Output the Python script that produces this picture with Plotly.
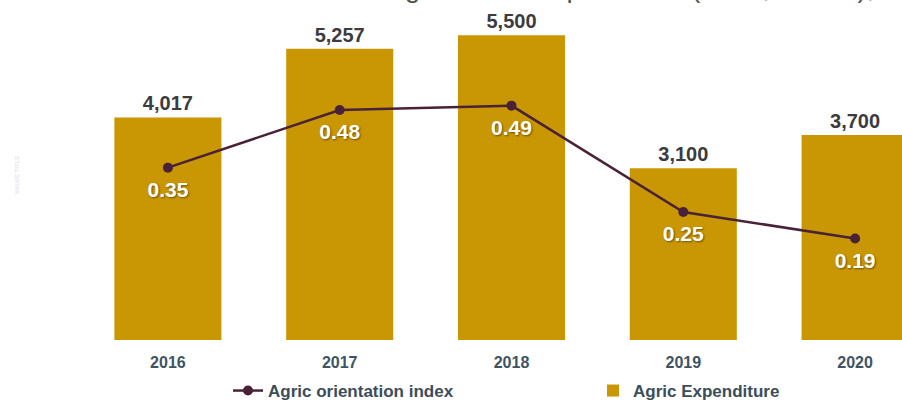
import plotly.graph_objects as go

years = ["2016", "2017", "2018", "2019", "2020"]
expenditure = [4017, 5257, 5500, 3100, 3700]
orientation_index = [0.35, 0.48, 0.49, 0.25, 0.19]
title_text = "Agricultural Expenditure (GH₵, million), 2016-2020"

W, H = 902, 403
ML, MR, MT, MB = 82, 0, 25, 63
plot_h = H - MT - MB

BAR = "#C99604"
LINE = "#4A2238"
FONT = "Liberation Sans, Arial, Helvetica, sans-serif"

fig = go.Figure()
fig.add_trace(go.Scatter(
    x=years, y=orientation_index, name="Agric orientation index",
    mode="lines+markers", yaxis="y2",
    line=dict(color=LINE, width=2.5),
    marker=dict(color=LINE, size=10),
    cliponaxis=False,
))
fig.add_trace(go.Bar(
    x=years, y=expenditure, name="Agric Expenditure",
    marker=dict(color=BAR, line=dict(width=0)),
    text=[f"{v:,}" for v in expenditure],
    textposition="outside",
    textfont=dict(family=FONT, size=20, color="#3b3b40", weight="bold"),
    cliponaxis=False,
))
fig.add_trace(go.Scatter(
    x=years, y=orientation_index, yaxis="y2", showlegend=False,
    mode="markers+text", hoverinfo="skip",
    marker=dict(size=20, opacity=0),
    text=[f"{v:.2f}" for v in orientation_index],
    textposition="bottom center",
    textfont=dict(family=FONT, size=21, color="white", weight="bold",
                  shadow="1px 1px 2px rgba(0,0,0,0.45)"),
    cliponaxis=False,
))

fig.update_layout(
    width=W, height=H,
    margin=dict(l=ML, r=MR, t=MT, b=MB, pad=0),
    paper_bgcolor="white", plot_bgcolor="white",
    bargap=0.377,
    showlegend=True,
    legend=dict(orientation="h", xref="container", yref="container",
                x=228 / W, y=(H - 373) / H, xanchor="left", yanchor="top",
                traceorder="normal",
                entrywidth=320, entrywidthmode="pixels",
                font=dict(family=FONT, size=17, color="#3b4d5c", weight="bold")),
    xaxis=dict(type="category", range=[-0.5, 4.273], showgrid=False,
               showline=False, zeroline=False, ticks="",
               ticklabelstandoff=11,
               tickfont=dict(family=FONT, size=16, color="#3e5464", weight="bold")),
    yaxis=dict(range=[0, plot_h / 0.0554], visible=False, showgrid=False),
    yaxis2=dict(range=[-0.039, 0.672], overlaying="y", visible=False,
                showgrid=False),
)

fig.add_annotation(text="VALUE TITLE", xref="paper", yref="paper",
                   x=(12 - ML) / (W - ML), y=(340 - 175) / plot_h,
                   textangle=-90, showarrow=False,
                   font=dict(family=FONT, size=6, color="#e4e4f0", weight="bold"))
fig.add_annotation(text=title_text, xref="paper", yref="paper",
                   x=(384 - ML) / (W - ML), y=1 + (MT + 12) / plot_h,
                   xanchor="left", yanchor="middle", showarrow=False,
                   font=dict(family=FONT, size=28, color="#555555"))

fig.write_html("out.html", config={"displayModeBar": False},
               post_script="document.body.style.margin='0px';")
